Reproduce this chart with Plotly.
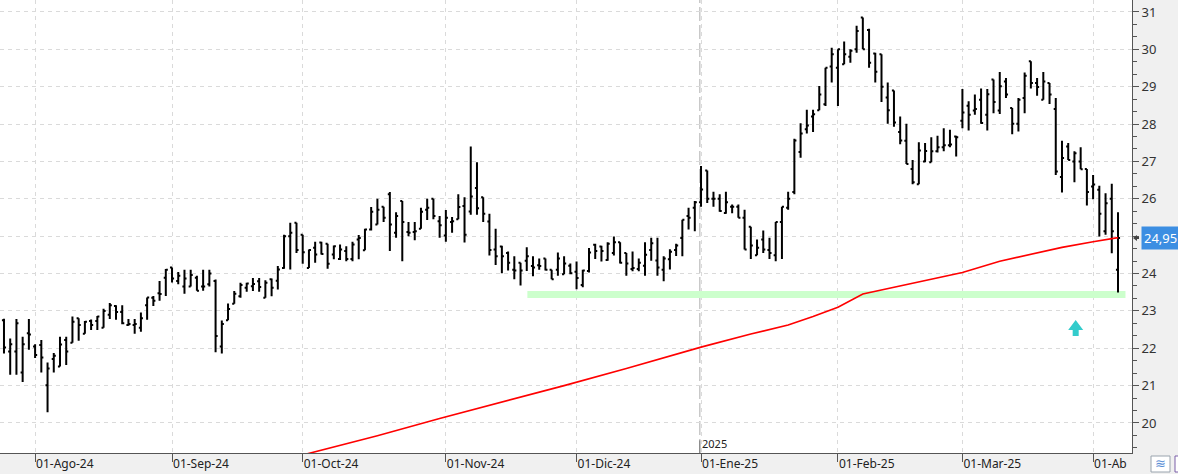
import plotly.graph_objects as go
import pandas as pd

# ---------------- data ----------------
holidays = ["2024-12-25", "2024-12-26", "2025-01-01"]
dates = [d for d in pd.bdate_range("2024-07-25", "2025-04-07")
         if d.strftime("%Y-%m-%d") not in holidays]

open_ = [22.75, 21.91, 21.91, 21.35, 22.40, 22.05, 22.09, 21.01, 21.71, 21.51,
         22.22, 22.15, 22.80, 22.39, 22.73, 22.73, 22.55, 22.90, 23.13, 22.97,
         22.62, 22.62, 22.55, 23.15, 23.35, 23.47, 23.89, 24.16, 23.80, 23.65,
         23.65, 23.89, 23.65, 23.71, 23.80, 22.05, 22.75, 23.19, 23.39, 23.62,
         23.66, 23.79, 23.35, 23.85, 23.81, 24.15, 25.00, 25.36, 25.04, 24.15,
         24.69, 24.83, 24.80, 24.51, 24.39, 24.60, 24.39, 24.91, 24.62, 25.18,
         25.31, 25.79, 26.12, 25.09, 25.94, 25.11, 25.11, 25.20, 25.71, 26.00,
         25.40, 25.02, 25.38, 25.45, 25.81, 25.66, 26.29, 26.04, 25.39, 24.64,
         24.72, 24.55, 24.10, 24.29, 24.34, 24.20, 24.22, 24.40, 24.10, 24.10,
         23.98, 24.21, 24.05, 23.69, 24.07, 24.77, 24.72, 24.36, 24.55, 24.84,
         24.55, 24.12, 24.12, 24.21, 24.63, 24.35, 24.10, 24.38, 24.63, 24.95,
         25.54, 25.76, 25.91, 26.76, 26.00, 26.00, 25.62, 25.79, 25.79, 25.49,
         25.25, 24.49, 24.91, 24.63, 24.49, 25.38, 25.76, 26.18, 27.25, 27.86,
         28.20, 28.37, 28.53, 29.54, 29.51, 29.60, 29.80, 30.00, 30.85, 30.52,
         29.89, 29.87, 28.71, 28.90, 27.79, 27.55, 26.80, 26.39, 27.00, 26.98,
         27.27, 27.38, 27.43, 27.67, 28.09, 28.49, 28.36, 28.65, 28.25, 29.19,
         28.36, 29.14, 28.43, 28.01, 28.70, 29.68, 29.10, 28.65, 29.10, 28.40,
         26.58, 27.40, 27.00, 27.00, 26.80, 26.33, 26.24, 25.13, 26.00, 24.10]
high = [22.79, 22.26, 22.78, 22.31, 22.78, 22.11, 22.22, 21.62, 21.87, 22.31,
        22.31, 22.85, 22.80, 22.73, 22.77, 22.86, 23.06, 23.21, 23.15, 23.15,
        22.78, 22.78, 22.96, 23.36, 23.40, 23.80, 24.12, 24.16, 24.04, 24.10,
        24.10, 23.94, 24.10, 24.10, 23.84, 22.74, 23.20, 23.53, 23.75, 23.75,
        23.88, 23.88, 23.82, 23.87, 24.20, 25.04, 25.36, 25.36, 25.04, 24.64,
        24.85, 24.85, 24.80, 24.75, 24.78, 24.73, 24.85, 25.03, 25.20, 25.78,
        26.00, 25.79, 26.18, 25.64, 25.94, 25.38, 25.38, 25.76, 26.00, 26.00,
        25.54, 25.70, 25.51, 26.12, 26.04, 27.40, 26.98, 26.04, 25.60, 25.20,
        24.74, 24.59, 24.46, 24.29, 24.70, 24.46, 24.40, 24.40, 24.10, 24.56,
        24.46, 24.27, 24.32, 24.10, 24.68, 24.80, 24.74, 24.84, 24.99, 24.84,
        24.55, 24.59, 24.40, 24.84, 24.96, 24.96, 24.46, 24.65, 24.80, 25.44,
        25.76, 25.94, 26.88, 26.76, 26.19, 26.12, 26.19, 25.85, 25.85, 25.71,
        25.25, 24.91, 25.15, 24.96, 25.38, 25.79, 26.19, 27.61, 28.02, 28.38,
        28.38, 29.02, 29.51, 30.04, 30.00, 30.21, 30.00, 30.63, 30.85, 30.55,
        29.91, 29.87, 29.11, 28.90, 28.20, 28.01, 27.04, 27.51, 27.49, 27.65,
        27.69, 27.89, 27.85, 27.69, 28.94, 28.61, 28.79, 28.95, 28.94, 29.19,
        29.39, 29.23, 28.43, 28.70, 29.38, 29.68, 29.23, 29.39, 29.10, 28.70,
        27.55, 27.49, 27.27, 27.38, 26.80, 26.64, 26.35, 26.15, 26.40, 25.64]
low = [21.86, 21.29, 21.29, 21.10, 21.96, 21.74, 21.35, 20.29, 21.35, 21.51,
       21.55, 22.15, 22.20, 22.39, 22.49, 22.49, 22.55, 22.78, 22.76, 22.64,
       22.60, 22.39, 22.44, 22.76, 23.13, 23.27, 23.40, 23.76, 23.71, 23.46,
       23.65, 23.54, 23.54, 23.65, 21.89, 21.86, 22.75, 23.19, 23.35, 23.51,
       23.53, 23.51, 23.35, 23.39, 23.57, 24.13, 24.11, 24.55, 24.26, 24.15,
       24.29, 24.51, 24.13, 24.38, 24.36, 24.33, 24.33, 24.38, 24.62, 25.15,
       25.31, 25.38, 24.60, 24.96, 24.33, 25.00, 24.89, 25.20, 25.43, 25.45,
       24.96, 24.85, 25.09, 25.45, 24.83, 25.57, 25.57, 25.38, 24.48, 24.23,
       24.01, 24.08, 23.85, 23.68, 24.07, 23.93, 24.10, 24.08, 23.85, 23.94,
       23.98, 23.98, 23.58, 23.63, 24.03, 24.39, 24.32, 24.34, 24.48, 24.27,
       23.94, 24.06, 24.06, 23.94, 24.34, 23.94, 23.79, 24.11, 24.47, 24.46,
       25.18, 25.13, 25.79, 25.89, 25.79, 25.65, 25.60, 25.61, 25.49, 24.64,
       24.39, 24.49, 24.55, 24.39, 24.33, 24.39, 25.71, 26.12, 27.10, 27.75,
       27.79, 28.37, 28.48, 29.11, 28.48, 29.60, 29.64, 29.91, 30.00, 29.51,
       29.11, 28.59, 28.01, 27.93, 27.46, 26.93, 26.39, 26.39, 26.98, 26.98,
       27.24, 27.27, 27.38, 27.13, 27.89, 27.83, 28.25, 28.01, 27.83, 28.29,
       28.27, 28.70, 27.73, 27.80, 28.29, 28.95, 28.76, 28.65, 28.54, 26.64,
       26.17, 27.04, 26.44, 26.79, 25.82, 25.99, 24.99, 25.04, 24.54, 23.49]
close = [22.02, 22.11, 22.67, 22.11, 22.37, 21.82, 21.75, 21.46, 21.80, 22.10,
         21.91, 22.71, 22.62, 22.71, 22.62, 22.85, 23.00, 23.15, 22.97, 22.67,
         22.65, 22.65, 22.80, 23.36, 23.27, 23.45, 24.10, 23.87, 23.94, 23.87,
         23.96, 23.54, 23.65, 24.00, 22.33, 22.65, 23.05, 23.46, 23.69, 23.73,
         23.72, 23.64, 23.75, 23.62, 24.11, 25.00, 25.09, 24.63, 24.57, 24.63,
         24.51, 24.52, 24.26, 24.73, 24.64, 24.39, 24.78, 24.95, 25.18, 25.65,
         25.71, 25.49, 25.31, 25.54, 25.38, 25.09, 25.13, 25.65, 25.76, 25.54,
         25.29, 25.49, 25.40, 25.78, 25.04, 26.06, 25.75, 25.60, 24.63, 24.46,
         24.46, 24.29, 24.08, 24.08, 24.46, 24.16, 24.20, 24.10, 23.85, 24.40,
         24.27, 24.01, 23.88, 24.08, 24.56, 24.60, 24.60, 24.80, 24.84, 24.29,
         24.27, 24.15, 24.29, 24.50, 24.81, 24.16, 24.40, 24.58, 24.75, 25.44,
         25.49, 25.91, 26.25, 26.00, 26.00, 25.67, 25.91, 25.79, 25.49, 24.64,
         24.75, 24.69, 24.64, 24.55, 25.38, 25.79, 26.00, 27.56, 27.75, 27.96,
         28.26, 28.79, 29.51, 29.87, 30.00, 29.87, 29.96, 30.49, 30.00, 29.64,
         29.40, 29.00, 28.37, 28.04, 27.56, 26.93, 26.44, 27.29, 27.28, 27.27,
         27.38, 27.43, 27.45, 27.65, 28.31, 28.25, 28.40, 28.03, 28.80, 28.59,
         29.01, 28.79, 28.01, 28.65, 29.29, 29.10, 28.99, 29.14, 28.79, 26.73,
         27.09, 27.04, 27.22, 26.79, 26.18, 26.38, 25.60, 25.88, 25.13, 24.95]

# moving average (red line), sampled at bar indices
ma_idx = [40, 50, 60, 70, 80, 90, 100, 112, 120, 126, 130, 134, 138, 144,
          150, 154, 160, 165, 170, 175, 179]
ma_val = [18.80, 19.22, 19.66, 20.12, 20.55, 21.00, 21.46, 22.03, 22.38, 22.62,
          22.85, 23.10, 23.45, 23.67, 23.88, 24.03, 24.33, 24.52, 24.70, 24.85, 24.96]

support_level = 23.44
support_from, support_to = 84.1, 180.2
last_price_label = "24,95"
last_price = 24.95
signal_idx, signal_price = 172.2, 22.33

month_keys = ["2024-08", "2024-09", "2024-10", "2024-11", "2024-12",
              "2025-01", "2025-02", "2025-03", "2025-04"]
month_labels = ["01-Ago-24", "01-Sep-24", "01-Oct-24", "01-Nov-24", "01-Dic-24",
                "01-Ene-25", "01-Feb-25", "01-Mar-25", "01-Ab"]
year_label = "2025"

# price axis: the "25" label sits under the last-price box in the reference
y_tick_vals = [20, 21, 22, 23, 24, 25, 26, 27, 28, 29, 30, 31]
y_tick_text = ["20", "21", "22", "23", "24", "", "26", "27", "28", "29", "30", "31"]

# ---------------- figure ----------------
x = list(range(len(dates)))
keys = [d.strftime("%Y-%m") for d in dates]
tickvals = [keys.index(k) for k in month_keys]
year_idx = keys.index("2025-01") - 0.2

FONT = "Noto Sans, Open Sans, sans-serif"
GRID = "#dadada"
AX = "#555555"

fig = go.Figure()
fig.add_trace(go.Ohlc(
    x=x, open=open_, high=high, low=low, close=close,
    increasing=dict(line=dict(color="black", width=2)),
    decreasing=dict(line=dict(color="black", width=2)),
    tickwidth=0.33, showlegend=False, hoverinfo="skip"))
fig.add_trace(go.Scatter(
    x=ma_idx, y=ma_val, mode="lines",
    line=dict(color="#ff0000", width=1.6), showlegend=False, hoverinfo="skip"))

shapes = [
    dict(type="line", xref="x", yref="y", x0=support_from, x1=support_to,
         y0=support_level, y1=support_level,
         line=dict(color="#ccffcc", width=7), layer="between"),
    dict(type="line", xref="x", yref="paper", x0=year_idx, x1=year_idx, y0=0, y1=1,
         line=dict(color="#c8c8c8", width=1.5, dash="14px,4px"), layer="between"),
    dict(type="line", xref="x", yref="paper", x0=year_idx, x1=year_idx, y0=0, y1=0.028,
         line=dict(color="#777777", width=1), layer="above"),
    # up arrow signal
    dict(type="path", xref="x", yref="y", xsizemode="pixel", ysizemode="pixel",
         xanchor=signal_idx, yanchor=signal_price,
         path="M -7.5,6 L 0,16 L 7.5,6 L 3,6 L 3,0 L -3,0 L -3,6 Z",
         fillcolor="#33cccc", line=dict(width=0), layer="above"),
    # small pointer on the axis at the last price
    dict(type="path", xref="paper", yref="y", xsizemode="pixel", ysizemode="pixel",
         xanchor=1, yanchor=last_price,
         path="M 1,0 L 5,3 L 5,1 L 7,1 L 7,-1 L 5,-1 L 5,-3 Z",
         fillcolor="#444444", line=dict(width=0), layer="above"),
    # bottom-right button
    dict(type="rect", xref="paper", yref="paper",
         x0=1151 / 1132, x1=1170 / 1132, y0=-3 / 453, y1=-19 / 453,
         fillcolor="white", line=dict(color="#9aa4ae", width=1)),
    dict(type="rect", xref="paper", yref="paper",
         x0=1175 / 1132, x1=1182 / 1132, y0=-3 / 453, y1=-19 / 453,
         fillcolor="white", line=dict(color="#7b5fa8", width=1)),
]

annotations = [
    dict(x=1, xref="paper", y=last_price, yref="y", xanchor="left", yanchor="middle",
         xshift=9, text=last_price_label, showarrow=False,
         font=dict(family=FONT, size=13, color="white"),
         bgcolor="#3c8ee2", borderpad=2),
    dict(x=year_idx, xref="x", y=0, yref="paper", xanchor="left", yanchor="bottom",
         xshift=0, yshift=0, text=year_label, showarrow=False,
         font=dict(family=FONT, size=11, color="#222222")),
    dict(x=1160.5 / 1132, xref="paper", y=-11 / 453, yref="paper",
         xanchor="center", yanchor="middle", text="≋", showarrow=False,
         font=dict(family="DejaVu Sans", size=13, color="#5b8fd6")),
]

fig.update_layout(
    width=1178, height=474, autosize=False,
    margin=dict(l=0, r=46, t=0, b=21, pad=0),
    paper_bgcolor="#f0f0f0", plot_bgcolor="white",
    font=dict(family=FONT, size=12, color="#222222"),
    shapes=shapes, annotations=annotations,
    xaxis=dict(
        range=[-0.64, 181.25], tickmode="array", tickvals=tickvals, ticktext=month_labels,
        ticks="outside", ticklen=8, tickcolor=AX, tickwidth=1,
        ticklabelposition="outside right",
        showline=True, linecolor=AX, linewidth=1, mirror=False,
        showgrid=True, gridcolor=GRID, griddash="4px,4px", gridwidth=1,
        zeroline=False, rangeslider=dict(visible=False), fixedrange=True,
        tickfont=dict(family=FONT, size=12, color="#222222")),
    yaxis=dict(
        side="right", range=[19.197, 31.32],
        tickmode="array", tickvals=y_tick_vals, ticktext=y_tick_text,
        ticks="outside", ticklen=6, tickcolor=AX, tickwidth=1,
        showline=True, linecolor=AX, linewidth=1,
        showgrid=True, gridcolor=GRID, griddash="4px,4px", gridwidth=1,
        zeroline=False, fixedrange=True,
        minor=dict(dtick=1 / 3, tick0=0, ticks="outside", ticklen=4,
                   tickcolor=AX, showgrid=False),
        tickfont=dict(family=FONT, size=13, color="#333333")),
)

fig.write_html("out.html")
